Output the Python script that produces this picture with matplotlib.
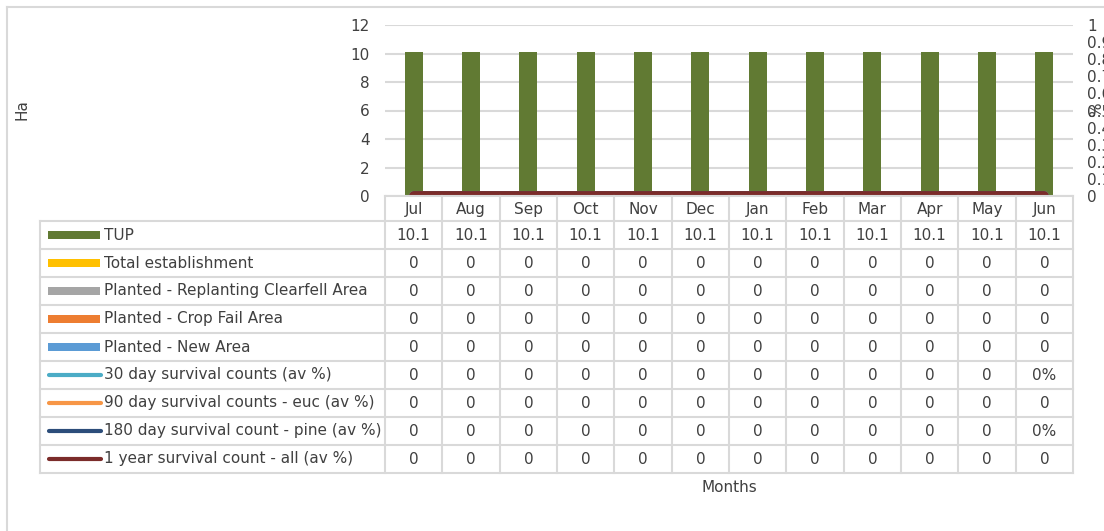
"""
Monthly planting / survival chart with a data table underneath.
"""
import matplotlib
matplotlib.use("Agg")
import matplotlib.pyplot as plt
from matplotlib.lines import Line2D
from matplotlib.patches import Rectangle

# Data
months = ["Jul", "Aug", "Sep", "Oct", "Nov", "Dec", "Jan", "Feb", "Mar", "Apr", "May", "Jun"]
tup = [10.1, 10.1, 10.1, 10.1, 10.1, 10.1, 10.1, 10.1, 10.1, 10.1, 10.1, 10.1]
total_establishment = [0, 0, 0, 0, 0, 0, 0, 0, 0, 0, 0, 0]
planted_replanting = [0, 0, 0, 0, 0, 0, 0, 0, 0, 0, 0, 0]
planted_crop_fail = [0, 0, 0, 0, 0, 0, 0, 0, 0, 0, 0, 0]
planted_new_area = [0, 0, 0, 0, 0, 0, 0, 0, 0, 0, 0, 0]
survival_30 = [0, 0, 0, 0, 0, 0, 0, 0, 0, 0, 0, 0]
survival_90_euc = [0, 0, 0, 0, 0, 0, 0, 0, 0, 0, 0, 0]
survival_180_pine = [0, 0, 0, 0, 0, 0, 0, 0, 0, 0, 0, 0]
survival_1yr = [0, 0, 0, 0, 0, 0, 0, 0, 0, 0, 0, 0]
# cells shown as percentage in the table (series name -> month index)
pct_cells = {"30 day survival counts (av %)": 11, "180 day survival count - pine (av %)": 11}

bar_series = [
    ("TUP", tup, "#617A33"),
    ("Total establishment", total_establishment, "#FFC000"),
    ("Planted - Replanting Clearfell Area", planted_replanting, "#A5A5A5"),
    ("Planted - Crop Fail Area", planted_crop_fail, "#ED7D31"),
    ("Planted - New Area", planted_new_area, "#5B9BD5"),
]
line_series = [
    ("30 day survival counts (av %)", survival_30, "#4BACC6"),
    ("90 day survival counts - euc (av %)", survival_90_euc, "#F79646"),
    ("180 day survival count - pine (av %)", survival_180_pine, "#2C4D7A"),
    ("1 year survival count - all (av %)", survival_1yr, "#7B2C2A"),
]

TEXT = "#404040"
GRID = "#D9D9D9"
FONT = "DejaVu Sans"
FS = 11

W, H = 1104, 531
fig = plt.figure(figsize=(W / 100, H / 100), dpi=100)
plt.rcParams["font.family"] = [FONT]

# plot area in pixels
PL, PR, PT, PB = 385, 1073, 25, 196


def fx(px):
    return px / W


def fy(py):
    return 1 - py / H


ax = fig.add_axes([fx(PL), fy(PB), fx(PR) - fx(PL), fy(PT) - fy(PB)])
x = list(range(len(months)))
for name, vals, color in bar_series:
    ax.bar(x, vals, width=0.31, color=color, linewidth=0, zorder=3)
ax.set_xlim(-0.5, len(months) - 0.5)
ax.set_ylim(0, 12)
ax.set_yticks(range(0, 13, 2))
ax.yaxis.grid(True, color=GRID, linewidth=1.5, zorder=0)
ax.tick_params(axis="y", length=0, pad=11, labelcolor=TEXT, labelsize=FS)
ax.set_xticks([])
for s in ax.spines.values():
    s.set_visible(False)

ax2 = ax.twinx()
for name, vals, color in line_series:
    ax2.plot(x, vals, color=color, linewidth=7, solid_capstyle="round", zorder=4)
ax2.set_ylim(0, 1)
ax2.set_yticks([i / 10 for i in range(11)])
ax2.set_yticklabels(["0", "0.1", "0.2", "0.3", "0.4", "0.5", "0.6", "0.7", "0.8", "0.9", "1"])
ax2.tick_params(axis="y", length=0, pad=10, labelcolor=TEXT, labelsize=FS)
for s in ax2.spines.values():
    s.set_visible(False)
ax2.set_xlim(-0.5, len(months) - 0.5)
fig.text(fx(1097), fy(110), "%", rotation=90, color=TEXT, fontsize=FS, ha="center", va="center")

# overlay axes in pixel coordinates for the table and frame
ov = fig.add_axes([0, 0, 1, 1], zorder=5)
ov.set_xlim(0, W)
ov.set_ylim(H, 0)
ov.axis("off")
ov.patch.set_alpha(0)

# outer chart frame
ov.add_line(Line2D([7, 7], [7, H], color=GRID, linewidth=1.5))
ov.add_line(Line2D([7, W], [7, 7], color=GRID, linewidth=1.5))

# data table
TL = 40
col_w = (PR - PL) / len(months)
header_top, header_bot = PB, 221
row_h = 28
all_rows = bar_series + line_series
table_bot = header_bot + row_h * len(all_rows)

ov.add_line(Line2D([PL, PR], [header_top, header_top], color=GRID, linewidth=1.5))
for i in range(len(all_rows) + 1):
    yy = header_bot + i * row_h
    ov.add_line(Line2D([TL, PR], [yy, yy], color=GRID, linewidth=1.5))
ov.add_line(Line2D([TL, TL], [header_bot, table_bot], color=GRID, linewidth=1.5))
for j in range(len(months) + 1):
    xx = PL + j * col_w
    ov.add_line(Line2D([xx, xx], [header_top, table_bot], color=GRID, linewidth=1.5))

for j, m in enumerate(months):
    ov.text(PL + (j + 0.5) * col_w, (header_top + header_bot) / 2 + 1, m,
            ha="center", va="center", color=TEXT, fontsize=FS)

for i, (name, vals, color) in enumerate(all_rows):
    yc = header_bot + (i + 0.5) * row_h
    if i < len(bar_series):
        ov.add_patch(Rectangle((48, yc - 4), 52, 8, color=color, linewidth=0))
    else:
        ov.add_line(Line2D([49, 101], [yc, yc], color=color, linewidth=3, solid_capstyle="round"))
    ov.text(104, yc, name, ha="left", va="center", color=TEXT, fontsize=FS)
    for j, v in enumerate(vals):
        if pct_cells.get(name) == j:
            label = f"{v:.0%}"
        else:
            label = f"{v:g}"
        ov.text(PL + (j + 0.5) * col_w, yc, label, ha="center", va="center",
                color=TEXT, fontsize=FS)

fig.text(fx(22), fy(110), "Ha", rotation=90, color=TEXT, fontsize=FS, ha="center", va="center")
fig.text(fx(729), fy(488), "Months", color=TEXT, fontsize=FS, ha="center", va="center")

fig.savefig("out.png", dpi=100)
